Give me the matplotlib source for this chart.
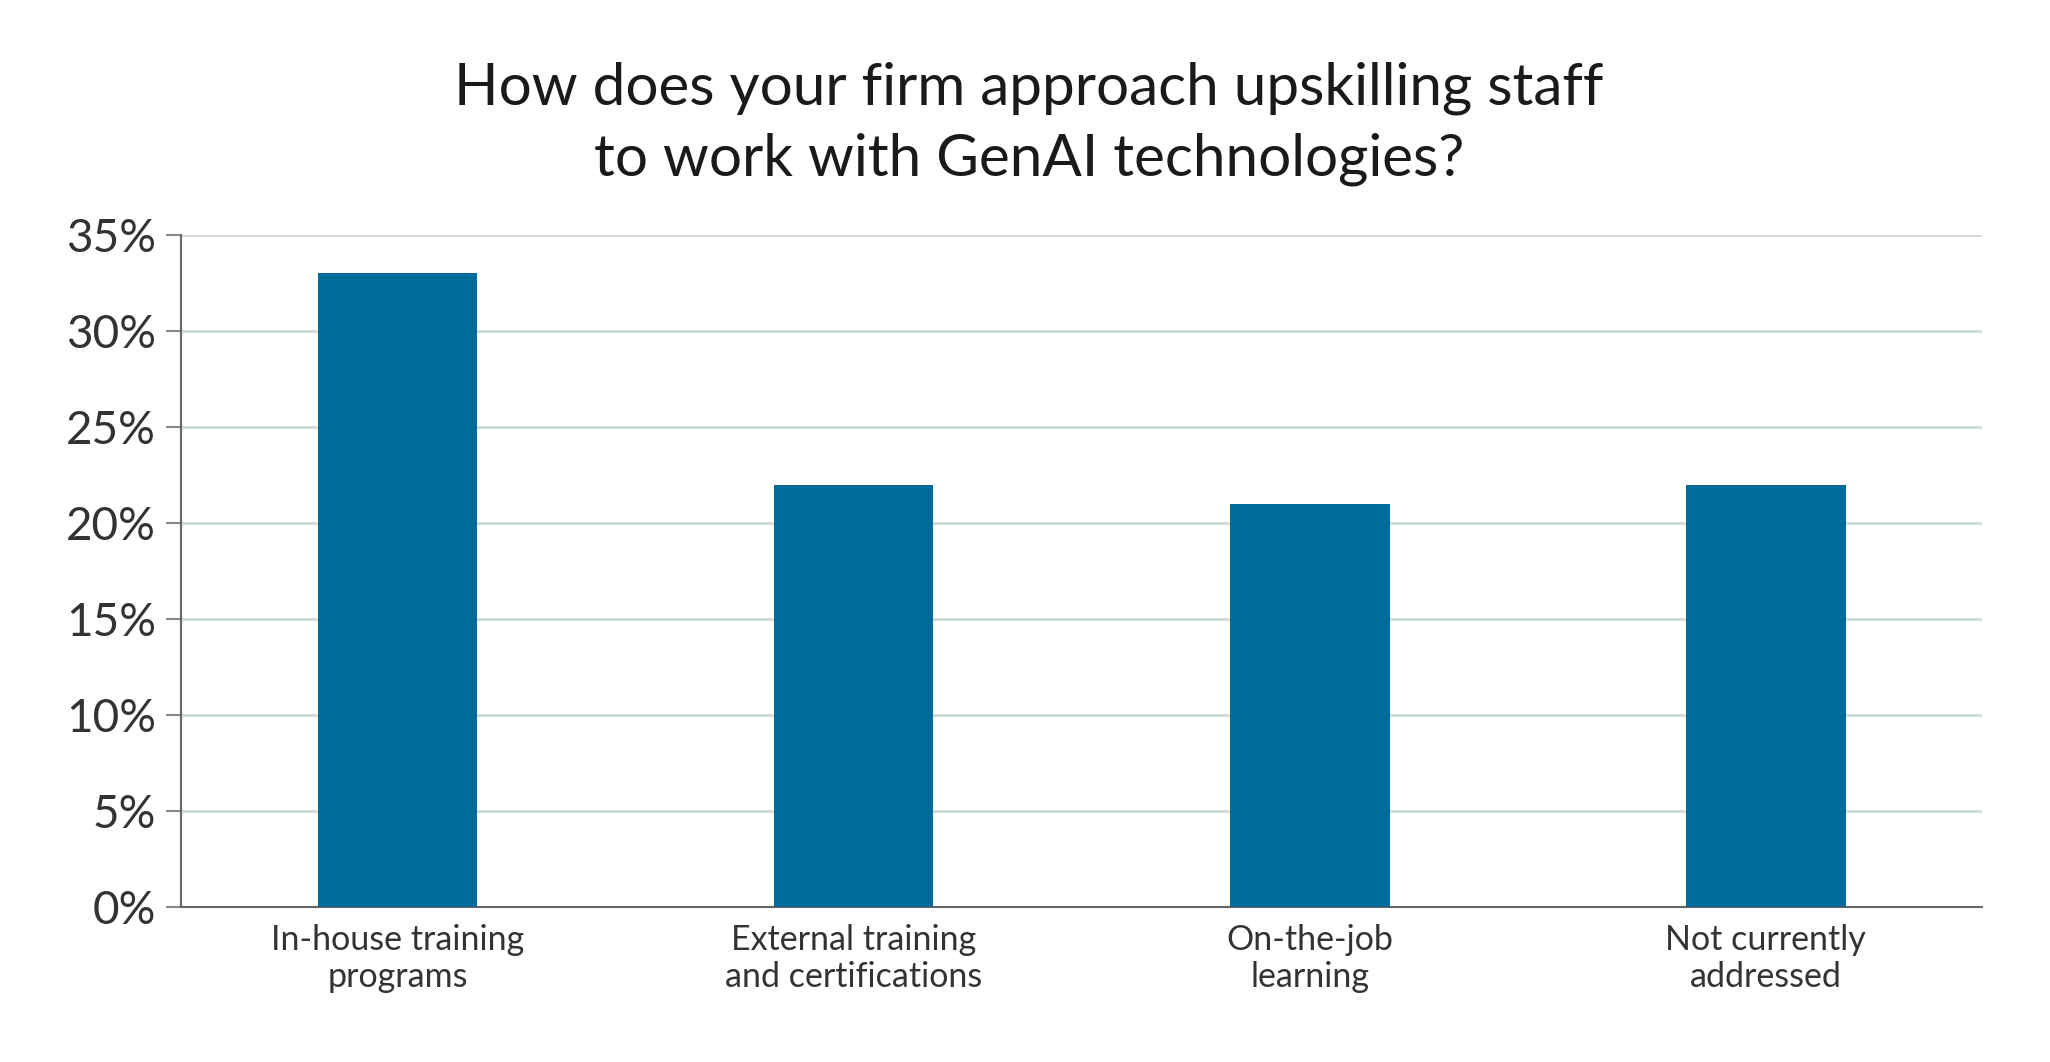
import matplotlib
matplotlib.use('Agg')
import matplotlib.pyplot as plt
from matplotlib.ticker import FuncFormatter

# 数据
categories = ['In-house training\nprograms', 'External training\nand certifications',
              'On-the-job\nlearning', 'Not currently\naddressed']
values = [33, 22, 21, 22]
yticks = [0, 5, 10, 15, 20, 25, 30, 35]
title = 'How does your firm approach upskilling staff\nto work with GenAI technologies?'

BAR = '#006c9a'
GRID = '#cfd9dc'
TXT = '#333333'

plt.rcParams['font.family'] = ['Lato', 'DejaVu Sans']

fig = plt.figure(figsize=(20.5, 10.62), dpi=100)
ax = fig.add_axes([0.0883, 0.1460, 0.967 - 0.0883, 0.7787 - 0.1460])

x = range(len(categories))
ax.bar(x, values, width=0.35, color=BAR, zorder=3)

ax.set_xlim(-0.475, len(categories) - 0.525)
ax.set_ylim(0, 35)
ax.set_yticks(yticks)
ax.yaxis.set_major_formatter(FuncFormatter(lambda v, _: f'{v:.0f}%'))
ax.grid(axis='y', color=GRID, linewidth=2, zorder=0)

ax.set_xticks(list(x))
ax.set_xticklabels(categories, fontsize=24.5, color=TXT, linespacing=1.2)
ax.tick_params(axis='x', length=0, pad=12)
ax.tick_params(axis='y', length=11, width=1.5, color='#888888',
               labelsize=33, labelcolor=TXT, pad=7)

for s in ['top', 'right']:
    ax.spines[s].set_visible(False)
for s in ['left', 'bottom']:
    ax.spines[s].set_color('#666666')
    ax.spines[s].set_linewidth(1.5)

fig.text(0.502, 0.942, title, ha='center', va='top', fontsize=42,
         color='#1a1a1a', linespacing=1.4)

plt.savefig('out.png', dpi=100)
plt.close()
